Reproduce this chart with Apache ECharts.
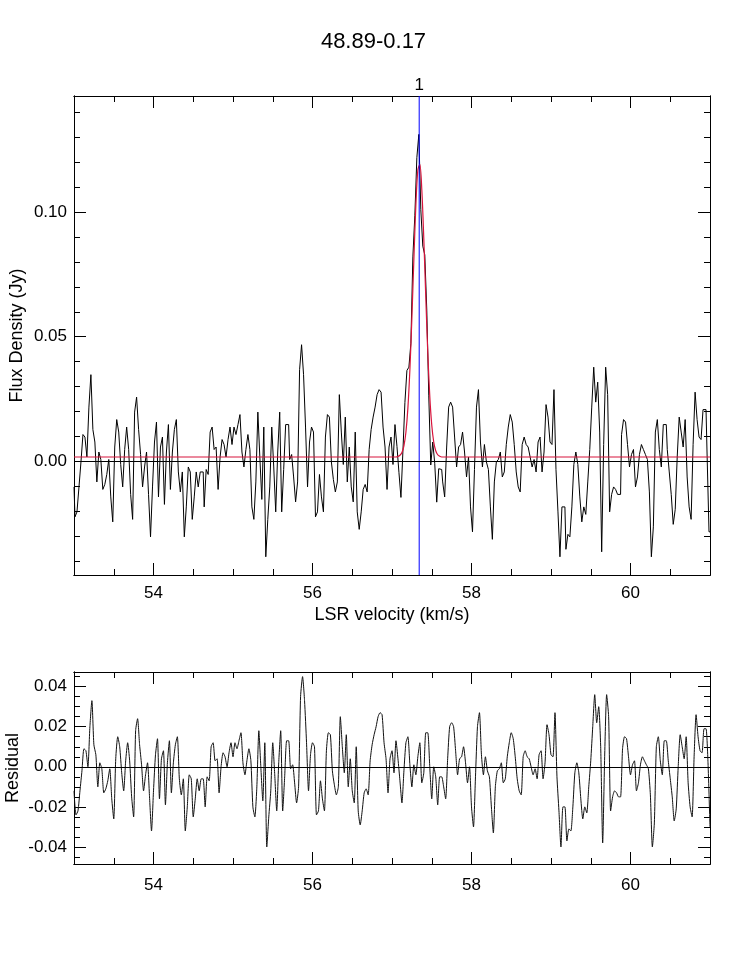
<!DOCTYPE html>
<html>
<head>
<meta charset="utf-8">
<script src="https://cdn.jsdelivr.net/npm/echarts@6/dist/echarts.min.js"></script>
<style>
html, body { margin: 0; padding: 0; background: #fff; }
#main { width: 747px; height: 961px; }
</style>
</head>
<body>
<div id="main"></div>
<script>
// channel grid (km/s)
const velStart = 53.0
const velStep = 0.025

// residual (Jy) per channel
const residual = [
  -0.012, -0.024, -0.022, -0.012, -0.002, 0.009, 0.008, 0.000, 0.020, 0.033,
  0.011, 0.006, -0.010, 0.002, -0.001, -0.013, -0.011, -0.007, -0.001, -0.016,
  -0.026, 0.004, 0.015, 0.010, -0.003, -0.012, 0.003, 0.012, 0.003, -0.015,
  -0.025, 0.018, 0.024, 0.011, 0.001, -0.012, -0.004, 0.002, -0.015, -0.032,
  -0.012, 0.006, 0.014, -0.016, 0.004, 0.008, -0.019, 0.002, 0.013, -0.013,
  0.002, 0.011, 0.015, -0.006, -0.014, -0.006, -0.032, -0.020, -0.004, -0.006,
  -0.025, -0.016, -0.006, -0.012, -0.006, -0.006, -0.020, -0.005, -0.007, 0.010,
  0.012, 0.003, 0.004, -0.013, 0.000, 0.007, 0.005, 0.000, 0.007, 0.012,
  0.005, 0.012, 0.009, 0.013, 0.017, 0.002, -0.004, 0.003, 0.009, 0.003,
  -0.020, -0.025, -0.010, 0.018, 0.000, -0.017, 0.012, -0.040, -0.025, -0.012,
  0.012, -0.004, -0.022, 0.002, 0.018, -0.022, -0.005, 0.013, 0.013, -0.001,
  0.001, -0.008, -0.018, -0.010, 0.035, 0.045, 0.033, 0.012, -0.012, 0.006,
  0.012, 0.010, -0.024, -0.022, -0.007, -0.016, -0.022, 0.008, 0.017, 0.016,
  -0.002, -0.009, -0.014, -0.010, 0.025, 0.010, -0.003, 0.016, -0.010, 0.004,
  -0.012, -0.018, 0.010, -0.022, -0.029, -0.022, -0.013, -0.011, -0.014, 0.003,
  0.011, 0.016, 0.020, 0.025, 0.027, 0.026, 0.012, 0.004, -0.013, 0.004,
  0.008, -0.003, 0.013, 0.004, -0.007, -0.018, -0.002, 0.012, 0.015, 0.001,
  -0.010, 0.001, -0.004, 0.005, 0.012, -0.008, -0.003, 0.017, 0.017, 0.000,
  -0.016, 0.000, -0.005, -0.019, -0.005, -0.005, -0.010, -0.016, 0.004, 0.020,
  0.022, 0.020, 0.008, -0.004, 0.004, 0.005, 0.010, 0.002, -0.008, 0.000,
  -0.020, -0.030, -0.005, 0.020, 0.027, 0.006, -0.004, 0.005, -0.002, -0.005,
  -0.020, -0.033, -0.010, -0.002, -0.001, 0.002, -0.008, -0.006, 0.005, 0.012,
  0.017, 0.014, 0.005, -0.006, -0.012, -0.014, 0.005, 0.008, 0.005, 0.004,
  0.000, -0.004, -0.001, -0.006, 0.006, 0.008, -0.006, 0.002, 0.021, 0.016,
  0.006, 0.005, 0.027, -0.005, -0.022, -0.040, -0.020, -0.020, -0.037, -0.031,
  -0.032, -0.020, -0.003, 0.002, -0.003, -0.016, -0.026, -0.020, -0.023, -0.010,
  0.003, 0.020, 0.036, 0.022, 0.030, 0.010, -0.038, 0.005, 0.036, 0.025,
  -0.022, -0.015, -0.012, -0.013, -0.015, -0.015, 0.009, 0.015, 0.014, 0.005,
  -0.004, 0.001, 0.003, -0.012, -0.008, 0.001, 0.005, 0.003, 0.001, -0.001,
  -0.014, -0.040, -0.028, 0.010, 0.015, 0.003, -0.004, 0.013, 0.013, 0.003,
  -0.006, -0.015, -0.027, -0.021, 0.000, 0.016, 0.010, 0.004, 0.015, -0.008,
  -0.020, -0.025, 0.005, 0.026, 0.015, 0.008, 0.007, 0.019, 0.019, 0.002, -0.030
]

// gaussian fit: baseline level + values over the channels around the line
const fitBaseline = 0.0018
const fitStart = 163
const fitPeak = [
  0.0020, 0.0025, 0.0036, 0.0063, 0.0117, 0.0215, 0.0368, 0.0574, 0.0810, 0.1027, 0.1168,
  0.1191, 0.1089, 0.0893, 0.0658, 0.0437, 0.0263, 0.0146, 0.0078, 0.0043, 0.0027, 0.0021
]
const lineCenter = 57.342
const lineLabel = '1'

// axis ranges and tick values
const fluxRange = [-0.0455, 0.1465]
const residRange = [-0.0485, 0.0473]
const fluxTicks = [0, 0.05, 0.10]
const fluxMinorTicks = [-0.04, -0.03, -0.02, -0.01, 0, 0.01, 0.02, 0.03, 0.04, 0.05, 0.06, 0.07, 0.08, 0.09, 0.10, 0.11, 0.12, 0.13, 0.14]
const residTicks = [-0.04, -0.02, 0, 0.02, 0.04]
const residMinorTicks = [-0.045, -0.04, -0.035, -0.03, -0.025, -0.02, -0.015, -0.01, -0.005, 0, 0.005, 0.01, 0.015, 0.02, 0.025, 0.03, 0.035, 0.04, 0.045]
const velTicks = [54, 56, 58, 60]
const velMinorTicks = [53.5, 54, 54.5, 55, 55.5, 56, 56.5, 57, 57.5, 58, 58.5, 59, 59.5, 60, 60.5]

const FONT = "'Liberation Sans', Arial, Helvetica, sans-serif"

function fitAt(i) {
    const k = i - fitStart
    return (k >= 0 && k < fitPeak.length) ? fitPeak[k] : fitBaseline
}

const vel = residual.map((r, i) => +(velStart + velStep * i).toFixed(4))
const fluxData = residual.map((r, i) => [vel[i], +(r + fitAt(i)).toFixed(4)])
const fitData = residual.map((r, i) => [vel[i], fitAt(i)])
const residData = residual.map((r, i) => [vel[i], r])
// the component marker spans the full flux axis
const markerData = [[lineCenter, fluxRange[0]], [lineCenter, fluxRange[1]]]

function mkAxis(grid, pos, min, max, ticks, len, labels, extra) {
    const ax = {
        type: 'value', gridIndex: grid, position: pos, min: min, max: max,
        axisLine: { show: true, onZero: false, lineStyle: { color: '#000', width: 1 } },
        axisTick: { show: true, inside: true, length: len, customValues: ticks, lineStyle: { color: '#000', width: 1 } },
        axisLabel: { show: !!labels, customValues: ticks, color: '#000', fontSize: 17, fontFamily: FONT },
        splitLine: { show: false }
    }
    if (labels) Object.assign(ax.axisLabel, labels)
    return Object.assign(ax, extra || {})
}

function nameOpts(name, gap) {
    return {
        name: name, nameLocation: 'middle', nameGap: gap, nameMoveOverlap: false,
        nameTextStyle: { color: '#000', fontSize: 18, fontFamily: FONT }
    }
}

function xSet(grid, name, margin) {
    return [
        mkAxis(grid, 'bottom', 53, 61, velTicks, 12, { margin: margin, formatter: v => String(v) },
            name ? nameOpts(name, 31) : {}),
        mkAxis(grid, 'bottom', 53, 61, velMinorTicks, 6, null),
        mkAxis(grid, 'top', 53, 61, velTicks, 12, null),
        mkAxis(grid, 'top', 53, 61, velMinorTicks, 6, null)
    ]
}

function ySet(grid, range, major, minor, name, gap) {
    return [
        mkAxis(grid, 'left', range[0], range[1], major, 12, { margin: 7, formatter: v => v.toFixed(2) }, nameOpts(name, gap)),
        mkAxis(grid, 'left', range[0], range[1], minor, 6, null),
        mkAxis(grid, 'right', range[0], range[1], major, 12, null),
        mkAxis(grid, 'right', range[0], range[1], minor, 6, null)
    ]
}

const myChart = echarts.init(document.getElementById('main'), null, { renderer: 'canvas' })

const option = {
    animation: false,
    backgroundColor: '#fff',
    title: {
        text: '48.89-0.17', left: 'center', top: 26,
        textStyle: { color: '#000', fontSize: 22, fontWeight: 'normal', fontFamily: FONT }
    },
    grid: [
        { left: 74, right: 37, top: 96, height: 479, containLabel: false, outerBoundsMode: 'none' },
        { left: 74, right: 37, top: 672, height: 192, containLabel: false, outerBoundsMode: 'none' }
    ],
    xAxis: [].concat(xSet(0, 'LSR velocity (km/s)', 10), xSet(1, null, 13)),
    yAxis: [].concat(
        ySet(0, fluxRange, fluxTicks, fluxMinorTicks, 'Flux Density (Jy)', 48),
        ySet(1, residRange, residTicks, residMinorTicks, 'Residual', 52)
    ),
    series: [
        {
            name: 'spectrum', type: 'line', xAxisIndex: 0, yAxisIndex: 0,
            data: fluxData, step: 'middle', showSymbol: false, symbol: 'none',
            lineStyle: { color: '#000', width: 1 }, z: 2,
            markLine: {
                silent: true, symbol: ['none', 'none'], animation: false,
                label: { show: false },
                lineStyle: { color: '#000', width: 1, type: 'solid' },
                data: [{ yAxis: fitBaseline }]
            }
        },
        {
            name: 'fit', type: 'line', xAxisIndex: 0, yAxisIndex: 0,
            data: fitData, showSymbol: false, symbol: 'none', smooth: 0.3,
            color: '#d8143c',
            lineStyle: { color: '#d8143c', width: 1.2 }, z: 3
        },
        {
            name: 'component', type: 'line', xAxisIndex: 0, yAxisIndex: 0,
            data: markerData, showSymbol: false, symbol: 'none',
            color: '#0000ff',
            lineStyle: { color: '#0000ff', width: 1 }, z: 4,
            markPoint: {
                silent: true, animation: false, symbol: 'circle', symbolSize: 0,
                label: { show: true, position: 'top', distance: 2, formatter: lineLabel, color: '#000', fontSize: 17, fontFamily: FONT },
                data: [{ coord: markerData[1] }]
            }
        },
        {
            name: 'residual', type: 'line', xAxisIndex: 4, yAxisIndex: 4,
            data: residData, showSymbol: false, symbol: 'none', smooth: 0.2,
            lineStyle: { color: '#111', width: 1 }, z: 2,
            markLine: {
                silent: true, symbol: ['none', 'none'], animation: false,
                label: { show: false },
                lineStyle: { color: '#000', width: 1, type: 'solid' },
                data: [{ yAxis: 0 }]
            }
        }
    ]
}

myChart.setOption(option)
window.addEventListener('resize', () => {
    myChart.resize()
})
</script>
</body>
</html>
